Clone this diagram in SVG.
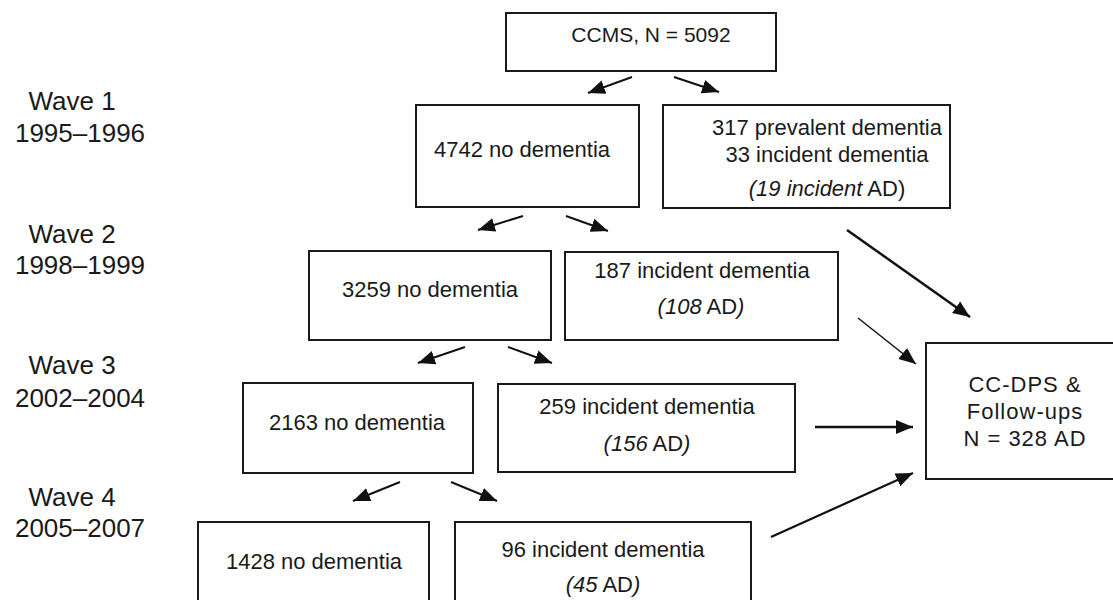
<svg xmlns="http://www.w3.org/2000/svg" width="1113" height="600" viewBox="0 0 1113 600">
<defs>
<style>
.box{fill:#fff;stroke:#1a1a1a;stroke-width:2}
.t{font-family:"Liberation Sans",Arial,sans-serif;font-size:22px;fill:#1a1a1a;text-anchor:middle}
.wave{font-family:"Liberation Sans",Arial,sans-serif;font-size:26px;fill:#1a1a1a;text-anchor:middle}
.i{font-style:italic}
.c{fill:none;stroke:#111;stroke-width:2;marker-end:url(#ah)}
</style>
<marker id="ah" markerUnits="userSpaceOnUse" markerWidth="18" markerHeight="15" refX="17" refY="7.5" orient="auto">
<path d="M0,0.5 L17,7.5 L0,14.5 z" fill="#111"/>
</marker>
</defs>
<rect width="1113" height="600" fill="#fff"/>
<g id="wave-labels">
<text class="wave" x="72" y="110">Wave 1</text>
<text class="wave" x="80" y="142">1995–1996</text>
<text class="wave" x="72" y="243">Wave 2</text>
<text class="wave" x="80" y="274">1998–1999</text>
<text class="wave" x="72" y="374">Wave 3</text>
<text class="wave" x="80" y="407">2002–2004</text>
<text class="wave" x="72" y="506">Wave 4</text>
<text class="wave" x="80" y="537">2005–2007</text>
</g>
<g id="ccms">
<rect class="box" x="506" y="13" width="270" height="58"/>
<text class="t" x="651" y="42" style="font-size:21px">CCMS, N = 5092</text>
</g>
<g id="w1-no">
<rect class="box" x="416" y="105" width="223" height="102"/>
<text class="t" x="522" y="157">4742 no dementia</text>
</g>
<g id="w1-dem">
<rect class="box" x="663" y="105" width="287" height="103"/>
<text class="t" x="827" y="135">317 prevalent dementia</text>
<text class="t" x="827" y="162">33 incident dementia</text>
<text class="t" x="827" y="196"><tspan class="i">(19 incident</tspan> AD)</text>
</g>
<g id="w2-no">
<rect class="box" x="309" y="251" width="242" height="89"/>
<text class="t" x="430" y="297">3259 no dementia</text>
</g>
<g id="w2-dem">
<rect class="box" x="565" y="252" width="273" height="88"/>
<text class="t" x="702" y="278">187 incident dementia</text>
<text class="t" x="701" y="314"><tspan class="i">(108</tspan> AD<tspan class="i">)</tspan></text>
</g>
<g id="w3-no">
<rect class="box" x="243" y="383" width="230" height="90"/>
<text class="t" x="357" y="430">2163 no dementia</text>
</g>
<g id="w3-dem">
<rect class="box" x="498" y="384" width="297" height="88"/>
<text class="t" x="647" y="414">259 incident dementia</text>
<text class="t" x="647" y="451"><tspan class="i">(156</tspan> AD<tspan class="i">)</tspan></text>
</g>
<g id="w4-no">
<rect class="box" x="198" y="522" width="231" height="100"/>
<text class="t" x="314" y="569">1428 no dementia</text>
</g>
<g id="w4-dem">
<rect class="box" x="455" y="522" width="296" height="100"/>
<text class="t" x="603" y="557">96 incident dementia</text>
<text class="t" x="603" y="592"><tspan class="i">(45</tspan> AD<tspan class="i">)</tspan></text>
</g>
<g id="ccdps">
<rect class="box" x="926" y="343" width="200" height="136"/>
<text class="t" x="1025" y="392" style="letter-spacing:1px">CC-DPS &amp;</text>
<text class="t" x="1025" y="419" style="letter-spacing:1px">Follow-ups</text>
<text class="t" x="1025" y="446" style="letter-spacing:1px">N = 328 AD</text>
</g>
<g id="connectors">
<path class="c" d="M632,77 L588,93"/>
<path class="c" d="M674,77 L719,92"/>
<path class="c" d="M523,216 L478,230"/>
<path class="c" d="M566,216 L608,231"/>
<path class="c" d="M465,347 L418,363"/>
<path class="c" d="M508,347 L552,363"/>
<path class="c" d="M400,482 L353,501"/>
<path class="c" d="M451,482 L497,501"/>
<path class="c" d="M847,230 L970,317" style="stroke-width:2.5"/>
<path class="c" d="M858,318 L916,364" style="stroke-width:1.5"/>
<path class="c" d="M815,427 L913,427" style="stroke-width:2.5"/>
<path class="c" d="M771,537 L913,473" style="stroke-width:2.2"/>
</g>
</svg>
